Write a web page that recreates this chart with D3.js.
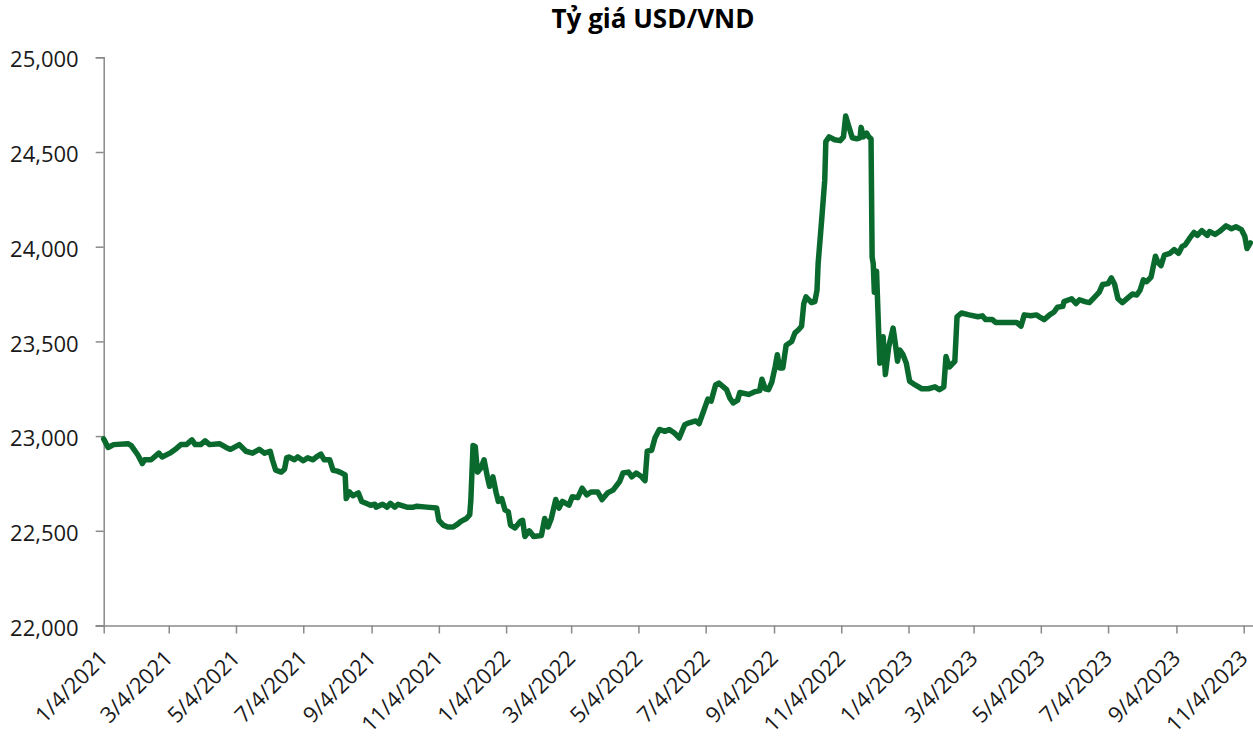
<!DOCTYPE html>
<html>
<head>
<meta charset="utf-8">
<style>
  body { margin: 0; background: #fff; font-family: 'Open Sans', sans-serif; }
  .axis path, .axis line { stroke: #8a8a8a; stroke-width: 1.5px; }
  .axis text { font-family: 'Open Sans', sans-serif; font-size: 22px; fill: #1a1a1a; }
</style>
</head>
<body>
<svg width="1253" height="736"></svg>
<script src="https://d3js.org/d3.v7.min.js"></script>
<script>
// USD/VND rate (date, rate)
var rate2021 = [
  ["2021-01-04",22985],["2021-01-08",22940],["2021-01-13",22955],["2021-01-26",22960],["2021-01-29",22950],
  ["2021-02-04",22900],["2021-02-08",22855],["2021-02-10",22875],["2021-02-16",22875],["2021-02-23",22910],
  ["2021-02-26",22890],["2021-03-05",22910],["2021-03-11",22935],["2021-03-15",22955],["2021-03-20",22955],
  ["2021-03-25",22980],["2021-03-28",22955],["2021-04-02",22955],["2021-04-06",22975],["2021-04-10",22955],
  ["2021-04-19",22960],["2021-04-25",22940],["2021-04-29",22930],["2021-05-07",22955],["2021-05-13",22920],
  ["2021-05-19",22910],["2021-05-25",22930],["2021-05-30",22910],["2021-06-04",22920],["2021-06-06",22875],
  ["2021-06-09",22820],["2021-06-14",22810],["2021-06-17",22825],["2021-06-19",22885],["2021-06-21",22890],
  ["2021-06-26",22875],["2021-06-29",22890],["2021-07-04",22870],["2021-07-08",22885],["2021-07-13",22875],
  ["2021-07-16",22890],["2021-07-20",22905],["2021-07-23",22875],["2021-07-28",22875],["2021-07-31",22820],
  ["2021-08-04",22815],["2021-08-08",22805],["2021-08-11",22795],["2021-08-12",22670],["2021-08-15",22705],
  ["2021-08-18",22685],["2021-08-23",22700],["2021-08-26",22655],["2021-08-30",22645],["2021-09-03",22635],
  ["2021-09-07",22640],["2021-09-08",22625],["2021-09-14",22640],["2021-09-18",22625],["2021-09-21",22645],
  ["2021-09-25",22625],["2021-09-28",22640],["2021-10-06",22625],["2021-10-12",22625],["2021-10-15",22630],
  ["2021-10-24",22625],["2021-11-02",22620],["2021-11-04",22555],["2021-11-08",22530],["2021-11-12",22520],
  ["2021-11-17",22520],["2021-11-21",22535],["2021-11-24",22550],["2021-11-29",22565],["2021-12-02",22585],
  ["2021-12-03",22660],["2021-12-05",22950],["2021-12-07",22945],["2021-12-09",22810],["2021-12-12",22830],
  ["2021-12-15",22875],["2021-12-18",22785],["2021-12-20",22735],["2021-12-23",22785],["2021-12-26",22700],
  ["2021-12-28",22655],["2021-12-31",22670]
];

var rate2022 = [
  ["2022-01-03",22610],["2022-01-06",22600],["2022-01-08",22530],["2022-01-12",22515],["2022-01-17",22550],
  ["2022-01-19",22555],["2022-01-21",22470],["2022-01-25",22500],["2022-01-29",22470],["2022-02-05",22475],
  ["2022-02-08",22565],["2022-02-11",22520],["2022-02-14",22565],["2022-02-18",22665],["2022-02-21",22620],
  ["2022-02-24",22655],["2022-03-02",22635],["2022-03-05",22680],["2022-03-10",22675],["2022-03-14",22725],
  ["2022-03-18",22690],["2022-03-22",22705],["2022-03-28",22705],["2022-04-01",22665],["2022-04-06",22700],
  ["2022-04-11",22715],["2022-04-17",22760],["2022-04-20",22805],["2022-04-25",22810],["2022-04-28",22785],
  ["2022-05-02",22805],["2022-05-07",22785],["2022-05-10",22765],["2022-05-12",22920],["2022-05-16",22925],
  ["2022-05-19",22990],["2022-05-23",23035],["2022-05-28",23025],["2022-06-01",23035],["2022-06-06",23015],
  ["2022-06-10",22990],["2022-06-15",23060],["2022-06-19",23070],["2022-06-25",23080],["2022-06-28",23065],
  ["2022-07-02",23130],["2022-07-06",23195],["2022-07-09",23185],["2022-07-13",23270],["2022-07-16",23280],
  ["2022-07-23",23245],["2022-07-26",23200],["2022-07-29",23175],["2022-08-02",23190],["2022-08-04",23230],
  ["2022-08-12",23220],["2022-08-18",23235],["2022-08-22",23240],["2022-08-24",23300],["2022-08-27",23250],
  ["2022-08-30",23245],["2022-09-02",23285],["2022-09-05",23365],["2022-09-07",23430],["2022-09-09",23360],
  ["2022-09-12",23360],["2022-09-15",23480],["2022-09-20",23500],["2022-09-23",23545],["2022-09-26",23560],
  ["2022-09-29",23580],["2022-10-01",23700],["2022-10-03",23735],["2022-10-08",23705],["2022-10-11",23710],
  ["2022-10-13",23770],["2022-10-14",23910],["2022-10-17",24125],["2022-10-20",24350],["2022-10-21",24555],
  ["2022-10-24",24580],["2022-10-29",24565],["2022-11-03",24560],["2022-11-06",24580],["2022-11-08",24690],
  ["2022-11-10",24650],["2022-11-14",24575],["2022-11-18",24570],["2022-11-21",24575],["2022-11-22",24630],
  ["2022-11-24",24580],["2022-11-27",24600],["2022-11-29",24580],["2022-12-01",24570],["2022-12-02",23945],
  ["2022-12-03",23910],["2022-12-04",23760],["2022-12-06",23870],["2022-12-08",23535],["2022-12-09",23385],
  ["2022-12-12",23525],["2022-12-14",23325],["2022-12-17",23470],["2022-12-21",23570],["2022-12-23",23490],
  ["2022-12-25",23395],["2022-12-27",23455],["2022-12-30",23430]
];

var rate2023 = [
  ["2023-01-02",23385],["2023-01-05",23290],["2023-01-10",23270],["2023-01-16",23250],["2023-01-22",23250],
  ["2023-01-28",23260],["2023-02-01",23245],["2023-02-05",23260],["2023-02-07",23420],["2023-02-10",23365],
  ["2023-02-15",23395],["2023-02-17",23630],["2023-02-21",23650],["2023-02-28",23640],["2023-03-08",23630],
  ["2023-03-12",23635],["2023-03-15",23615],["2023-03-21",23615],["2023-03-24",23600],["2023-04-01",23600],
  ["2023-04-07",23600],["2023-04-12",23600],["2023-04-16",23580],["2023-04-19",23640],["2023-04-25",23635],
  ["2023-04-30",23640],["2023-05-04",23625],["2023-05-07",23615],["2023-05-12",23640],["2023-05-16",23655],
  ["2023-05-19",23680],["2023-05-24",23685],["2023-05-25",23710],["2023-06-01",23725],["2023-06-05",23700],
  ["2023-06-08",23720],["2023-06-13",23710],["2023-06-17",23705],["2023-06-22",23735],["2023-06-26",23760],
  ["2023-06-29",23800],["2023-07-04",23805],["2023-07-07",23835],["2023-07-10",23800],["2023-07-13",23725],
  ["2023-07-17",23705],["2023-07-22",23730],["2023-07-26",23750],["2023-07-30",23745],["2023-08-02",23770],
  ["2023-08-05",23825],["2023-08-08",23815],["2023-08-12",23840],["2023-08-16",23950],["2023-08-18",23920],
  ["2023-08-21",23900],["2023-08-24",23955],["2023-08-29",23965],["2023-09-02",23985],["2023-09-06",23965],
  ["2023-09-09",24000],["2023-09-12",24010],["2023-09-16",24045],["2023-09-20",24075],["2023-09-23",24060],
  ["2023-09-27",24085],["2023-10-02",24060],["2023-10-04",24080],["2023-10-09",24065],["2023-10-13",24080],
  ["2023-10-19",24110],["2023-10-24",24095],["2023-10-28",24105],["2023-11-02",24090],["2023-11-05",24055],
  ["2023-11-07",23990],["2023-11-10",24020]
];

var xTickLabels = ["1/4/2021","3/4/2021","5/4/2021","7/4/2021","9/4/2021","11/4/2021",
                   "1/4/2022","3/4/2022","5/4/2022","7/4/2022","9/4/2022","11/4/2022",
                   "1/4/2023","3/4/2023","5/4/2023","7/4/2023","9/4/2023","11/4/2023"];
var yTicks = [22000, 22500, 23000, 23500, 24000, 24500, 25000];
var title = "Tỷ giá USD/VND";

var parseDay = d3.timeParse("%Y-%m-%d"),
    parseLabel = d3.timeParse("%m/%d/%Y");

var data = rate2021.concat(rate2022, rate2023).map(function(d) {
  return {date: parseDay(d[0]), value: d[1]};
});

var svg = d3.select("svg");

var x = d3.scaleTime()
    .domain([parseDay("2021-01-04"), parseDay("2023-11-12")])
    .range([103.7, 1252.5]);

var y = d3.scaleLinear()
    .domain([22000, 25000])
    .range([625.5, 57.3]);

// title
svg.append("text")
    .attr("x", 653)
    .attr("y", 28)
    .attr("text-anchor", "middle")
    .attr("font-family", "'Open Sans', sans-serif")
    .attr("font-size", 26)
    .attr("font-weight", "bold")
    .attr("fill", "#000")
    .text(title);

// y axis
var yAxis = svg.append("g")
    .attr("class", "axis")
    .attr("transform", "translate(" + x.range()[0] + ",0)")
    .call(d3.axisLeft(y).tickValues(yTicks).tickFormat(d3.format(",")).tickSizeOuter(0).tickSize(8).tickPadding(17));
yAxis.selectAll("text").attr("dy", "0.44em");

// x axis
var xAxis = svg.append("g")
    .attr("class", "axis")
    .attr("transform", "translate(0," + y.range()[0] + ")")
    .call(d3.axisBottom(x).tickValues(xTickLabels.map(parseLabel)).tickSizeOuter(0).tickSize(8)
      .tickFormat(function(d, i) { return xTickLabels[i]; }));

xAxis.select(".domain").attr("d", "M" + (x.range()[0] - 8) + ",0.5H1253");

xAxis.selectAll("text")
    .attr("text-anchor", "end")
    .attr("dy", null)
    .attr("y", 0)
    .attr("transform", "translate(5,34) rotate(-45)");

// line
var line = d3.line()
    .x(function(d) { return x(d.date); })
    .y(function(d) { return y(d.value); });

svg.append("path")
    .datum(data)
    .attr("fill", "none")
    .attr("stroke", "#0a6a2e")
    .attr("stroke-width", 5.5)
    .attr("stroke-linejoin", "round")
    .attr("stroke-linecap", "round")
    .attr("d", line);
</script>
</body>
</html>
